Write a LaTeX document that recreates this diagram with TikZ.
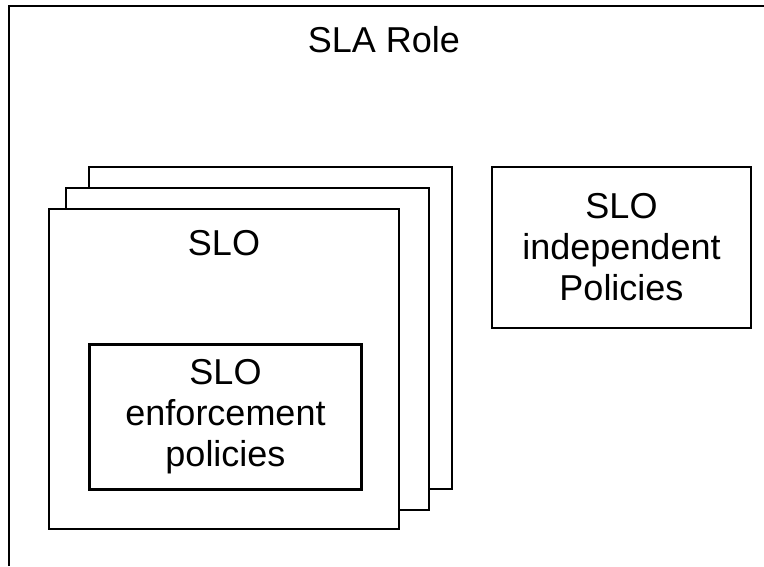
\documentclass[tikz,border=0pt]{standalone}
\usepackage{fontspec}
\setmainfont{Liberation Sans}
\begin{document}
\begin{tikzpicture}[x=1pt,y=-1pt,
  every node/.style={font=\fontsize{36}{41}\selectfont, align=center, inner sep=0pt},
  card/.style={draw=black, fill=white, line width=2pt},
  boldcard/.style={draw=black, fill=white, line width=3pt}]
  \useasboundingbox (0,0) rectangle (764,566);

  % enclosing role frame (continues past the page edges)
  \draw[line width=2pt] (9,566) -- (9,6) -- (764,6);
  \node (role) at (384,40) {SLA Role};

  % stack of SLO cards, back to front
  \node[card, minimum width=363pt, minimum height=322pt] (slo3) at (270.5,328) {};
  \node[card, minimum width=363pt, minimum height=322pt] (slo2) at (247.5,349) {};
  \node[card, minimum width=350pt, minimum height=320pt] (slo1) at (224,369) {};
  \node (slolabel) at (224,243) {SLO};

  % enforcement policies inside the front card
  \node[boldcard, minimum width=272pt, minimum height=145pt] (enf) at (225.5,416.5)
    {SLO\\enforcement\\policies};

  % independent policies
  \node[card, minimum width=259pt, minimum height=161pt] (indep) at (621.5,247.5)
    {SLO\\independent\\Policies};
\end{tikzpicture}
\end{document}
